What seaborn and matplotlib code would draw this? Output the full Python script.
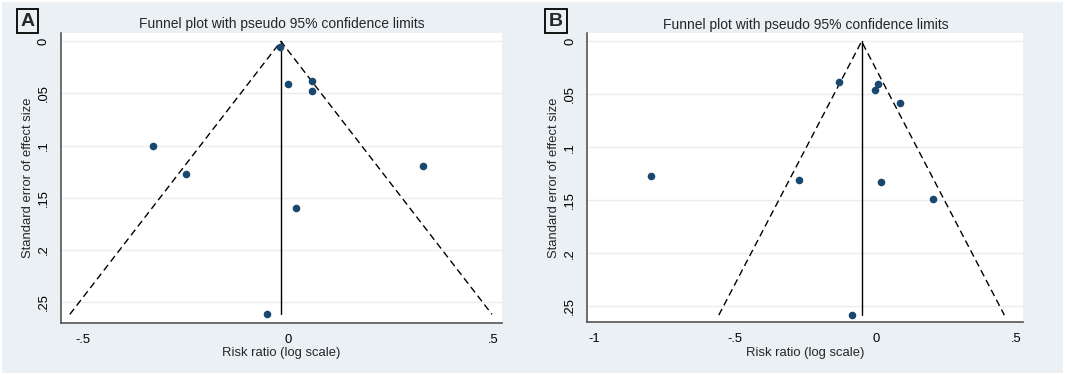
import numpy as np
import pandas as pd
import seaborn as sns
import matplotlib.pyplot as plt

# Panel A data (log risk ratio, standard error)
a_logrr = [-0.019, 0.001, 0.058, 0.058, -0.329, -0.249, 0.329, 0.020, -0.051]
a_se = [0.005, 0.041, 0.038, 0.048, 0.100, 0.127, 0.120, 0.160, 0.262]
a_pooled = -0.017

# Panel B data
b_logrr = [-0.796, -0.129, 0.009, -0.001, 0.085, -0.273, 0.018, 0.204, -0.085]
b_se = [0.127, 0.038, 0.040, 0.046, 0.058, 0.1305, 0.133, 0.149, 0.2585]
b_pooled = -0.050

x_ticks_a = [-0.5, 0, 0.5]
x_ticks_b = [-1, -0.5, 0, 0.5]
y_ticks = [0, 0.05, 0.1, 0.15, 0.2, 0.25]

BG = "#eaf0f4"
DOT = "#1a476f"
GRID = "#e6eef2"

sns.set_style("white")
plt.rcParams["font.family"] = ["Liberation Sans", "DejaVu Sans"]


def fmt(v):
    if v == 0:
        return "0"
    s = ("%g" % v)
    return s.replace("0.", ".")


def funnel(ax, logrr, se, pooled, xticks, xlim, ylim, letter, letter_pos):
    df = pd.DataFrame({"logrr": logrr, "se": se})
    top = max(se)
    lim = pd.DataFrame({
        "x": [pooled - 1.96 * top, pooled, pooled + 1.96 * top],
        "y": [top, 0, top],
    })
    sns.lineplot(data=lim, x="x", y="y", sort=False, ax=ax, color="black",
                 linestyle=(0, (5, 3)), linewidth=1.0, estimator=None)
    ax.plot([pooled, pooled], [0, top], color="black", linewidth=1.0)
    sns.scatterplot(data=df, x="logrr", y="se", ax=ax, color=DOT, s=30,
                    edgecolor=DOT, linewidth=0, zorder=3)
    ax.set_xlim(*xlim)
    ax.set_ylim(ylim[1], ylim[0])
    ax.set_xticks(xticks)
    ax.set_xticklabels([fmt(v) for v in xticks], fontsize=9.4)
    ax.set_yticks(y_ticks)
    ax.set_yticklabels([fmt(v) for v in y_ticks], fontsize=9.4, rotation=90,
                       va="center")
    ax.yaxis.grid(True, color=GRID, linewidth=1.0)
    ax.set_axisbelow(True)
    ax.tick_params(axis="both", direction="out", length=5, width=1,
                   color="#555555", pad=3, labelcolor="black")
    for sp in ["top", "right"]:
        ax.spines[sp].set_visible(False)
    for sp in ["left", "bottom"]:
        ax.spines[sp].set_color("#555555")
        ax.spines[sp].set_linewidth(1.2)
    ax.set_xlabel("Risk ratio (log scale)", fontsize=9.4, labelpad=1)
    ax.set_ylabel("Standard error of effect size", fontsize=9.4, labelpad=3)
    ax.set_title("Funnel plot with pseudo 95% confidence limits",
                 fontsize=10, pad=3.5)
    ax.figure.text(letter_pos[0], letter_pos[1], letter, fontsize=14,
                   fontweight="bold", ha="center", va="center",
                   bbox=dict(boxstyle="square,pad=0.2", facecolor="none",
                             edgecolor="black", linewidth=1.3))


fig = plt.figure(figsize=(10.65, 3.75), dpi=100)
fig.patch.set_facecolor(BG)
fig.patch.set_edgecolor("white")
fig.patch.set_linewidth(1.5)

ax_a = fig.add_axes([0.0573, 0.1395, 0.4141, 0.7725])
ax_b = fig.add_axes([0.5515, 0.1413, 0.4094, 0.7697])

funnel(ax_a, a_logrr, a_se, a_pooled, x_ticks_a, (-0.552, 0.521),
       (-0.008, 0.270), "A", (27.5 / 1065, 1 - 21 / 375))
funnel(ax_b, b_logrr, b_se, b_pooled, x_ticks_b, (-1.023, 0.524),
       (-0.0076, 0.265), "B", (556 / 1065, 1 - 21 / 375))

fig.savefig("out.png", dpi=100, facecolor=BG, edgecolor="white")
